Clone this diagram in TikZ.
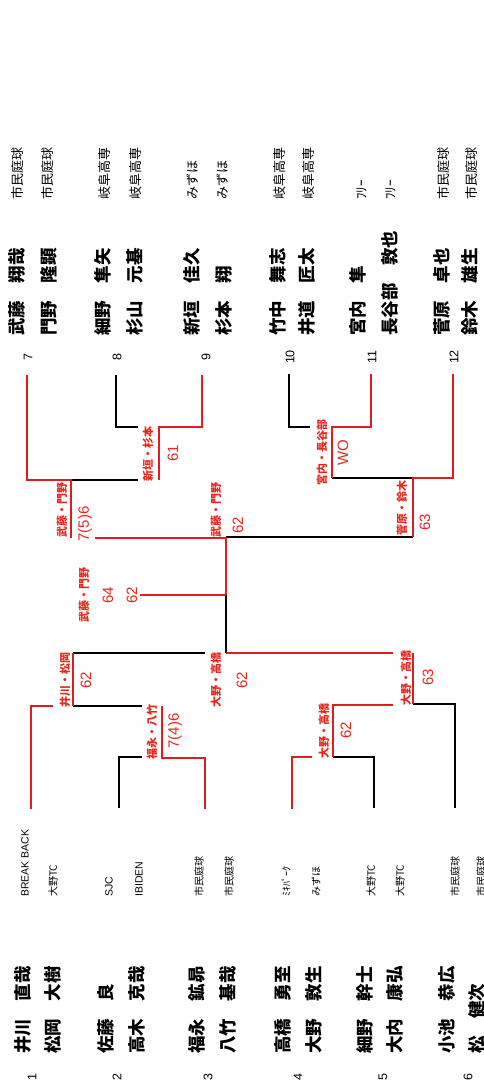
\documentclass[tikz,border=0pt]{standalone}
\usepackage{fontspec}
\setmainfont{Liberation Sans}
\newfontfamily\jp{Noto Sans CJK JP}
\definecolor{lred}{RGB}{220,30,35}
\definecolor{tred}{RGB}{228,40,30}
\begin{document}
\begin{tikzpicture}[x=1pt,y=-1pt,line join=miter,
  rl/.style={draw=lred,line width=1.8pt},
  bl/.style={draw=black,line width=1.8pt},
  nm/.style={rotate=90,anchor=west,inner sep=0pt,font=\jp\bfseries\fontsize{17.5}{18}\selectfont},
  clt/.style={rotate=90,anchor=west,inner sep=0pt,font=\jp\fontsize{13}{14}\selectfont},
  clb/.style={rotate=90,anchor=west,inner sep=0pt,font=\jp\fontsize{10}{11}\selectfont},
  clbl/.style={rotate=90,anchor=west,inner sep=0pt,font=\fontsize{10.5}{11}\selectfont},
  num/.style={rotate=90,inner sep=0pt,font=\fontsize{12.5}{13}\selectfont},
  lab/.style={rotate=90,inner sep=0pt,text=tred,font=\jp\bfseries\fontsize{11}{12}\selectfont},
  sc/.style={rotate=90,inner sep=0pt,text=tred,font=\fontsize{15}{16}\selectfont}]
\useasboundingbox (0,0) rectangle (483,1087);
\clip (0,0) rectangle (483,1087);
% player line ends
\coordinate (p7) at (27,375);  \coordinate (p8) at (116,375); \coordinate (p9) at (202,375);
\coordinate (p10) at (289,374); \coordinate (p11) at (371,374); \coordinate (p12) at (453,374);
\coordinate (p1) at (31,809); \coordinate (p2) at (119,808); \coordinate (p3) at (205,809);
\coordinate (p4) at (292,809); \coordinate (p5) at (374,808); \coordinate (p6) at (455,808);
% black (losing) lines
\draw[bl] (p8) -- (116,427) -- (138,427);
\draw[bl] (71,480) -- (138,480);
\draw[bl] (p10) -- (289,427) -- (310,427);
\draw[bl] (332,478) -- (413,478);
\draw[bl] (226,537) -- (413,537);
\draw[bl] (226,595) -- (226,653);
\draw[bl] (73,653) -- (205,653);
\draw[bl] (73,706) -- (142,706);
\draw[bl] (p2) -- (119,757) -- (142,757);
\draw[bl] (p5) -- (374,757) -- (333,757);
\draw[bl] (p6) -- (455,704) -- (413,704);
% red (winning) lines
\draw[rl] (p7) -- (27,480) -- (71,480) -- (71,538);
\draw[rl] (p9) -- (202,427) -- (159,427) -- (159,480);
\draw[rl] (95,538) -- (226,538) -- (226,595);
\draw[rl] (140,595) -- (226,595);
\draw[rl] (p11) -- (371,427) -- (332,427) -- (332,478);
\draw[rl] (p12) -- (453,478) -- (413,478) -- (413,537);
\draw[rl] (226,653) -- (393,653);
\draw[rl] (413,653) -- (413,704);
\draw[rl] (393,705) -- (333,705) -- (333,757);
\draw[rl] (p4) -- (292,757) -- (312,757);
\draw[rl] (73,653) -- (73,706);
\draw[rl] (p1) -- (31,706) -- (53,706);
\draw[rl] (p3) -- (205,758) -- (162,758) -- (162,706);
% match labels
\node[lab] (l1) at (148,454) {新垣・杉本};  \node[sc] (s1) at (173,453) {61};
\node[lab] (l2) at (62,510) {武藤・門野};   \node[sc] (s2) at (85,524) {7(5)6};
\node[lab] (l3) at (216,510) {武藤・門野};  \node[sc] (s3) at (238,525) {62};
\node[lab] (l4) at (322,452) {宮内・長谷部}; \node[sc] (s4) at (343,453) {WO};
\node[lab] (l5) at (402,508) {菅原・鈴木};  \node[sc] (s5) at (425,522) {63};
\node[lab] (lf) at (84,595) {武藤・門野};   \node[sc] (sf1) at (108,595) {64}; \node[sc] (sf2) at (132,595) {62};
\node[lab] (l6) at (65,680) {井川・松岡};   \node[sc] (s6) at (86,680) {62};
\node[lab] (l7) at (152,732) {福永・八竹};  \node[sc] (s7) at (175,731) {7(4)6};
\node[lab] (l8) at (216,680) {大野・高橋};  \node[sc] (s8) at (242,680) {62};
\node[lab] (l9) at (406,678) {大野・高橋};  \node[sc] (s9) at (428,677) {63};
\node[lab] (l10) at (324,731) {大野・高橋}; \node[sc] (s10) at (346,730) {62};
% draw numbers
\node[num] (d7) at (28,357) {7};   \node[num] (d8) at (117,357) {8};   \node[num] (d9) at (206,357) {9};
\node[num] (d10) at (290,357) {10}; \node[num] (d11) at (372,357) {11}; \node[num] (d12) at (454,357) {12};
\node[num] (d1) at (32,1077) {1};  \node[num] (d2) at (117,1077) {2};  \node[num] (d3) at (208,1077) {3};
\node[num] (d4) at (298,1077) {4}; \node[num] (d5) at (383,1077) {5};  \node[num] (d6) at (468,1077) {6};
% top names
\node[nm] (n7a) at (17,336) {武藤　翔哉};   \node[nm] (n7b) at (49,336) {門野　隆顕};
\node[nm] (n8a) at (103,336) {細野　隼矢};  \node[nm] (n8b) at (135,336) {杉山　元基};
\node[nm] (n9a) at (192,336) {新垣　佳久};  \node[nm] (n9b) at (224,336) {杉本　翔};
\node[nm] (n10a) at (278,336) {竹中　舞志}; \node[nm] (n10b) at (307,336) {井道　匠太};
\node[nm] (n11a) at (358,336) {宮内　隼};   \node[nm] (n11b) at (390,336) {長谷部　敦也};
\node[nm] (n12a) at (442,336) {菅原　卓也}; \node[nm] (n12b) at (470,336) {鈴木　雄生};
% top clubs
\node[clt] (c7a) at (18,200) {市民庭球};  \node[clt] (c7b) at (48,200) {市民庭球};
\node[clt] (c8a) at (105,200) {岐阜高専}; \node[clt] (c8b) at (136,200) {岐阜高専};
\node[clt] (c9a) at (193,200) {みずほ};   \node[clt] (c9b) at (223,200) {みずほ};
\node[clt] (c10a) at (280,200) {岐阜高専}; \node[clt] (c10b) at (309,200) {岐阜高専};
\node[clt] (c11a) at (362,200) {ﾌﾘｰ};     \node[clt] (c11b) at (391,200) {ﾌﾘｰ};
\node[clt] (c12a) at (444,200) {市民庭球}; \node[clt] (c12b) at (472,200) {市民庭球};
% bottom names
\node[nm] (n1a) at (23,1054) {井川　直哉};  \node[nm] (n1b) at (53,1054) {松岡　大樹};
\node[nm] (n2a) at (106,1054) {佐藤　良};   \node[nm] (n2b) at (137,1054) {高木　克哉};
\node[nm] (n3a) at (197,1054) {福永　鉱昴}; \node[nm] (n3b) at (228,1054) {八竹　基哉};
\node[nm] (n4a) at (283,1054) {高橋　勇至}; \node[nm] (n4b) at (314,1054) {大野　敦生};
\node[nm] (n5a) at (365,1054) {細野　幹士}; \node[nm] (n5b) at (395,1054) {大内　康弘};
\node[nm] (n6a) at (447,1054) {小池　恭広}; \node[nm] (n6b) at (477,1054) {松　健次};
% bottom clubs
\node[clbl] (c1a) at (25,897) {BREAK BACK}; \node[clb] (c1b) at (53,897) {大野TC};
\node[clbl] (c2a) at (109,897) {SJC};       \node[clbl] (c2b) at (139,897) {IBIDEN};
\node[clb] (c3a) at (199,897) {市民庭球};   \node[clb] (c3b) at (229,897) {市民庭球};
\node[clb] (c4a) at (286,897) {ﾐｷﾊﾟｰｸ};     \node[clb] (c4b) at (316,897) {みずほ};
\node[clb] (c5a) at (371,897) {大野TC};     \node[clb] (c5b) at (400,897) {大野TC};
\node[clb] (c6a) at (455,897) {市民庭球};   \node[clb] (c6b) at (481,897) {市民庭球};
\end{tikzpicture}
\end{document}
